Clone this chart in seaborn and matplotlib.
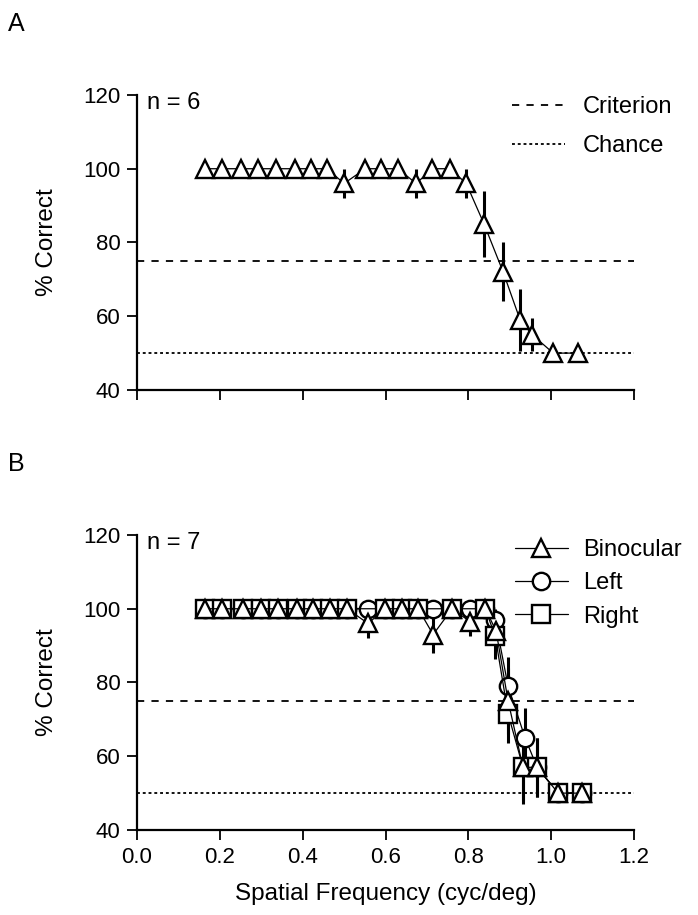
import numpy as np
import pandas as pd
import seaborn as sns
import matplotlib.pyplot as plt
from matplotlib.lines import Line2D

# %%
# panel A: binocular, n = 6
freq_a = [0.164, 0.205, 0.251, 0.292, 0.336, 0.382, 0.420, 0.459, 0.500, 0.551, 0.589,
          0.630, 0.674, 0.713, 0.756, 0.795, 0.838, 0.884, 0.925, 0.954, 1.005, 1.065]
pct_a = [100, 100, 100, 100, 100, 100, 100, 100, 96, 100, 100,
         100, 96, 100, 100, 96, 85, 72, 59, 55, 50, 50]
err_a = [0, 0, 0, 0, 0, 0, 0, 0, 4, 0, 0,
         0, 4, 0, 0, 4, 9, 8, 8.5, 4.5, 0, 0]

# panel B: n = 7
freq_bin = [0.164, 0.205, 0.256, 0.299, 0.341, 0.386, 0.425, 0.466, 0.507, 0.558, 0.599, 0.640,
            0.679, 0.715, 0.761, 0.804, 0.841, 0.867, 0.896, 0.932, 0.966, 1.017, 1.075]
pct_bin = [100, 100, 100, 100, 100, 100, 100, 100, 100, 96, 100, 100,
           100, 93, 100, 96.5, 100, 94, 75, 57, 57, 50, 50]
err_bin = [0, 0, 0, 0, 0, 0, 0, 0, 0, 4, 0, 0,
           0, 5, 0, 4, 0, 5, 9, 10, 8, 0, 0]

freq_left = [0.164, 0.205, 0.256, 0.299, 0.341, 0.386, 0.425, 0.466, 0.507, 0.558, 0.599, 0.640,
             0.679, 0.715, 0.761, 0.804, 0.841, 0.865, 0.896, 0.937, 0.966, 1.017, 1.075]
pct_left = [100, 100, 100, 100, 100, 100, 100, 100, 100, 100, 100, 100,
            100, 100, 100, 100, 100, 97, 79, 65, 57, 50, 50]
err_left = [0, 0, 0, 0, 0, 0, 0, 0, 0, 0, 0, 0,
            0, 0, 0, 0, 0, 3, 8, 8, 0, 0, 0]

freq_right = [0.164, 0.205, 0.256, 0.299, 0.341, 0.386, 0.425, 0.466, 0.507, 0.599, 0.640,
              0.679, 0.761, 0.841, 0.865, 0.896, 0.932, 0.966, 1.017, 1.075]
pct_right = [100, 100, 100, 100, 100, 100, 100, 100, 100, 100, 100,
             100, 100, 100, 92.5, 71.5, 57, 57, 50, 50]
err_right = [0, 0, 0, 0, 0, 0, 0, 0, 0, 0, 0,
             0, 0, 0, 6, 8, 9, 8, 0, 0]

criterion = 75
chance = 50

# %%
sns.set_style("ticks")
plt.rcParams["font.family"] = ["Liberation Sans", "DejaVu Sans"]
plt.rcParams["font.size"] = 16
for k in ["text.color", "axes.labelcolor", "xtick.color", "ytick.color", "axes.edgecolor"]:
    plt.rcParams[k] = "black"

fig = plt.figure(figsize=(6.98, 9.15), dpi=100)
ax_a = fig.add_axes([0.1963, 0.5738, 0.712, 0.3224])
ax_b = fig.add_axes([0.1963, 0.0929, 0.712, 0.3224])

mk = dict(markerfacecolor="white", markeredgecolor="black", markeredgewidth=1.7)
crit_ls = (0, (4, 4))
chance_ls = (0, (1.6, 1.6))


def draw_series(ax, freq, pct, err, marker, label, size):
    df = pd.DataFrame({"freq": freq, "pct": pct, "err": err})
    ax.errorbar(df["freq"], df["pct"], yerr=df["err"], fmt="none",
                ecolor="black", elinewidth=2.2, capsize=0, zorder=2)
    sns.lineplot(data=df, x="freq", y="pct", ax=ax, color="black", linewidth=0.9,
                 marker=marker, markersize=size, label=label, legend=False,
                 zorder=3, **mk)


def style_axis(ax, n_text, show_xlabels):
    ax.axhline(criterion, color="black", linestyle=crit_ls, linewidth=1.3, zorder=1)
    ax.axhline(chance, color="black", linestyle=chance_ls, linewidth=1.3, zorder=1)
    ax.set_xlim(0, 1.2)
    ax.set_ylim(40, 120)
    ticks = np.arange(0, 1.21, 0.2)
    ax.set_xticks(ticks)
    ax.set_yticks([40, 60, 80, 100, 120])
    ax.tick_params(length=7, width=1.3, labelsize=16, pad=5)
    if show_xlabels:
        ax.set_xticklabels([f"{t:.1f}" for t in ticks])
        ax.set_xlabel("Spatial Frequency (cyc/deg)", fontsize=17.5, labelpad=11)
    else:
        ax.set_xticklabels([])
        ax.set_xlabel("")
    ax.set_ylabel("% Correct", fontsize=17.5, labelpad=18)
    for s in ["left", "bottom"]:
        ax.spines[s].set_linewidth(1.6)
    sns.despine(ax=ax)
    ax.text(0.02, 0.972, n_text, transform=ax.transAxes, fontsize=17, va="center")


# %%
draw_series(ax_a, freq_a, pct_a, err_a, "^", "Binocular", 13)
style_axis(ax_a, "n = 6", False)
leg_a = [
    Line2D([], [], color="black", linestyle=crit_ls, linewidth=1.3),
    Line2D([], [], color="black", linestyle=chance_ls, linewidth=1.3),
]
ax_a.legend(leg_a, ["Criterion", "Chance"], loc="upper left", bbox_to_anchor=(0.755, 0.995),
            frameon=False, fontsize=17, handlelength=2.25, handletextpad=0.72,
            labelspacing=0.72, borderpad=0, borderaxespad=0)

draw_series(ax_b, freq_left, pct_left, err_left, "o", "Left", 12.5)
draw_series(ax_b, freq_right, pct_right, err_right, "s", "Right", 12.5)
draw_series(ax_b, freq_bin, pct_bin, err_bin, "^", "Binocular", 13)
style_axis(ax_b, "n = 7", True)
leg_b = [
    Line2D([], [], color="black", linewidth=0.9, marker="^", markersize=13, **mk),
    Line2D([], [], color="black", linewidth=0.9, marker="o", markersize=12.5, **mk),
    Line2D([], [], color="black", linewidth=0.9, marker="s", markersize=12.5, **mk),
]
ax_b.legend(leg_b, ["Binocular", "Left", "Right"], loc="upper left", bbox_to_anchor=(0.76, 0.987),
            frameon=False, fontsize=17, handlelength=2.25, handletextpad=0.66,
            labelspacing=0.48, borderpad=0, borderaxespad=0)

fig.text(0.012, 0.974, "A", fontsize=18, va="center")
fig.text(0.012, 0.493, "B", fontsize=18, va="center")

plt.savefig("out.png", dpi=100)
